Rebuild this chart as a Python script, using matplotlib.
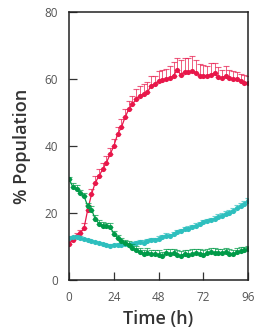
import matplotlib.pyplot as plt
import numpy as np

# Data (sampled every 2 h)
time_h = np.arange(0, 97, 2)

red = [10.7, 12.0, 13.0, 14.0, 15.5, 21.0, 25.5, 29.0, 31.0, 33.0, 35.0, 37.5, 40.0,
       43.5, 45.5, 48.5, 51.0, 52.5, 54.0, 55.0, 55.5, 56.0, 58.0, 58.5, 59.3, 59.8,
       60.0, 60.3, 61.0, 62.7, 61.2, 62.2, 62.2, 62.3, 61.8, 61.0, 60.8, 61.0, 61.3,
       61.7, 60.5, 60.3, 60.9, 60.3, 60.0, 60.0, 59.5, 58.7, 58.8]
red_err = [1, 1, 1, 1, 1.5, 1.5, 1.5, 2, 2, 2, 2, 2, 2, 2, 2.5, 2.5, 2.5, 2.5, 3, 3,
           3, 3, 3, 2.5, 3, 3, 3, 3.5, 4, 3.5, 4.5, 4, 4, 4.5, 4, 3.5, 3.5, 3, 3.5, 3,
           3, 2.5, 3, 2.5, 2.5, 2, 2, 2.5, 2]

green = [30.0, 27.8, 27.2, 25.8, 25.0, 22.0, 21.0, 18.2, 16.8, 16.2, 16.1, 15.9, 13.7,
         12.5, 11.6, 11.0, 10.5, 9.6, 9.0, 8.3, 7.6, 8.0, 7.7, 7.6, 7.3, 7.0, 7.9, 7.6,
         8.0, 7.5, 7.2, 7.8, 7.4, 7.6, 8.0, 7.7, 7.5, 7.9, 8.3, 8.0, 8.1, 7.9, 8.2, 7.8,
         7.6, 8.2, 8.6, 8.8, 9.2]
green_err = [0.8, 1, 1, 1, 1, 1, 1, 1.2, 1, 1, 1, 1, 1, 1, 1, 1, 1.2, 1.2, 1.2, 1.2,
             1.2, 1.5, 1.2, 1.2, 1.5, 1.2, 1.2, 1.5, 1.2, 1.5, 1.5, 1.2, 1.5, 1.5, 1.2,
             1.5, 1.5, 1.2, 1.2, 1.5, 1.2, 1.2, 1.2, 1.5, 1.2, 1.2, 1.2, 1.0, 1.0]

teal = [12.4, 12.7, 12.9, 12.5, 12.1, 11.8, 11.5, 11.2, 10.9, 10.6, 10.3, 10.1, 10.3,
        10.4, 10.5, 10.6, 10.5, 10.8, 11.0, 11.3, 11.1, 11.5, 11.8, 11.9, 12.3, 12.8,
        13.2, 13.0, 13.6, 14.2, 14.5, 15.1, 15.3, 15.8, 16.2, 16.6, 17.2, 17.5, 17.9,
        18.3, 18.9, 19.2, 19.7, 20.1, 20.6, 21.4, 22.0, 22.8, 23.5]
teal_err = [0.5] * 20 + [0.7] * 20 + [0.9] * 9

series = [
    (red, red_err, '#E8174A'),
    (teal, teal_err, '#2EBFBE'),
    (green, green_err, '#009A48'),
]

plt.rcParams['font.family'] = ['Open Sans', 'DejaVu Sans']

fig = plt.figure(figsize=(2.56, 3.32), dpi=100)
ax = fig.add_axes([0.27, 0.157, 0.699, 0.807])

for vals, errs, col in series:
    zeros = np.zeros(len(errs))
    ax.errorbar(time_h, vals, yerr=[zeros, errs], fmt='none', ecolor=col,
                elinewidth=0.7, capsize=2.4, capthick=0.8, alpha=0.7)
    ax.plot(time_h, vals, color=col, lw=0.9, marker='o', ms=3.7,
            markeredgewidth=0)

ax.set_xlim(0, 96)
ax.set_ylim(0, 80)
ax.set_xticks([0, 24, 48, 72, 96])
ax.set_yticks([0, 20, 40, 60, 80])
ax.tick_params(direction='in', length=5.5, width=0.9, labelsize=8.5,
               labelcolor='#555555', color='#333333', pad=8)
ax.tick_params(axis='x', pad=8)
for s in ax.spines.values():
    s.set_linewidth(1.1)
    s.set_color('#222222')

ax.set_xlabel('Time (h)', fontsize=13, fontweight='semibold', color='#333333', labelpad=4)
ax.set_ylabel('% Population', fontsize=13, fontweight='semibold', color='#333333', labelpad=10)

fig.savefig('out.png', dpi=100)
